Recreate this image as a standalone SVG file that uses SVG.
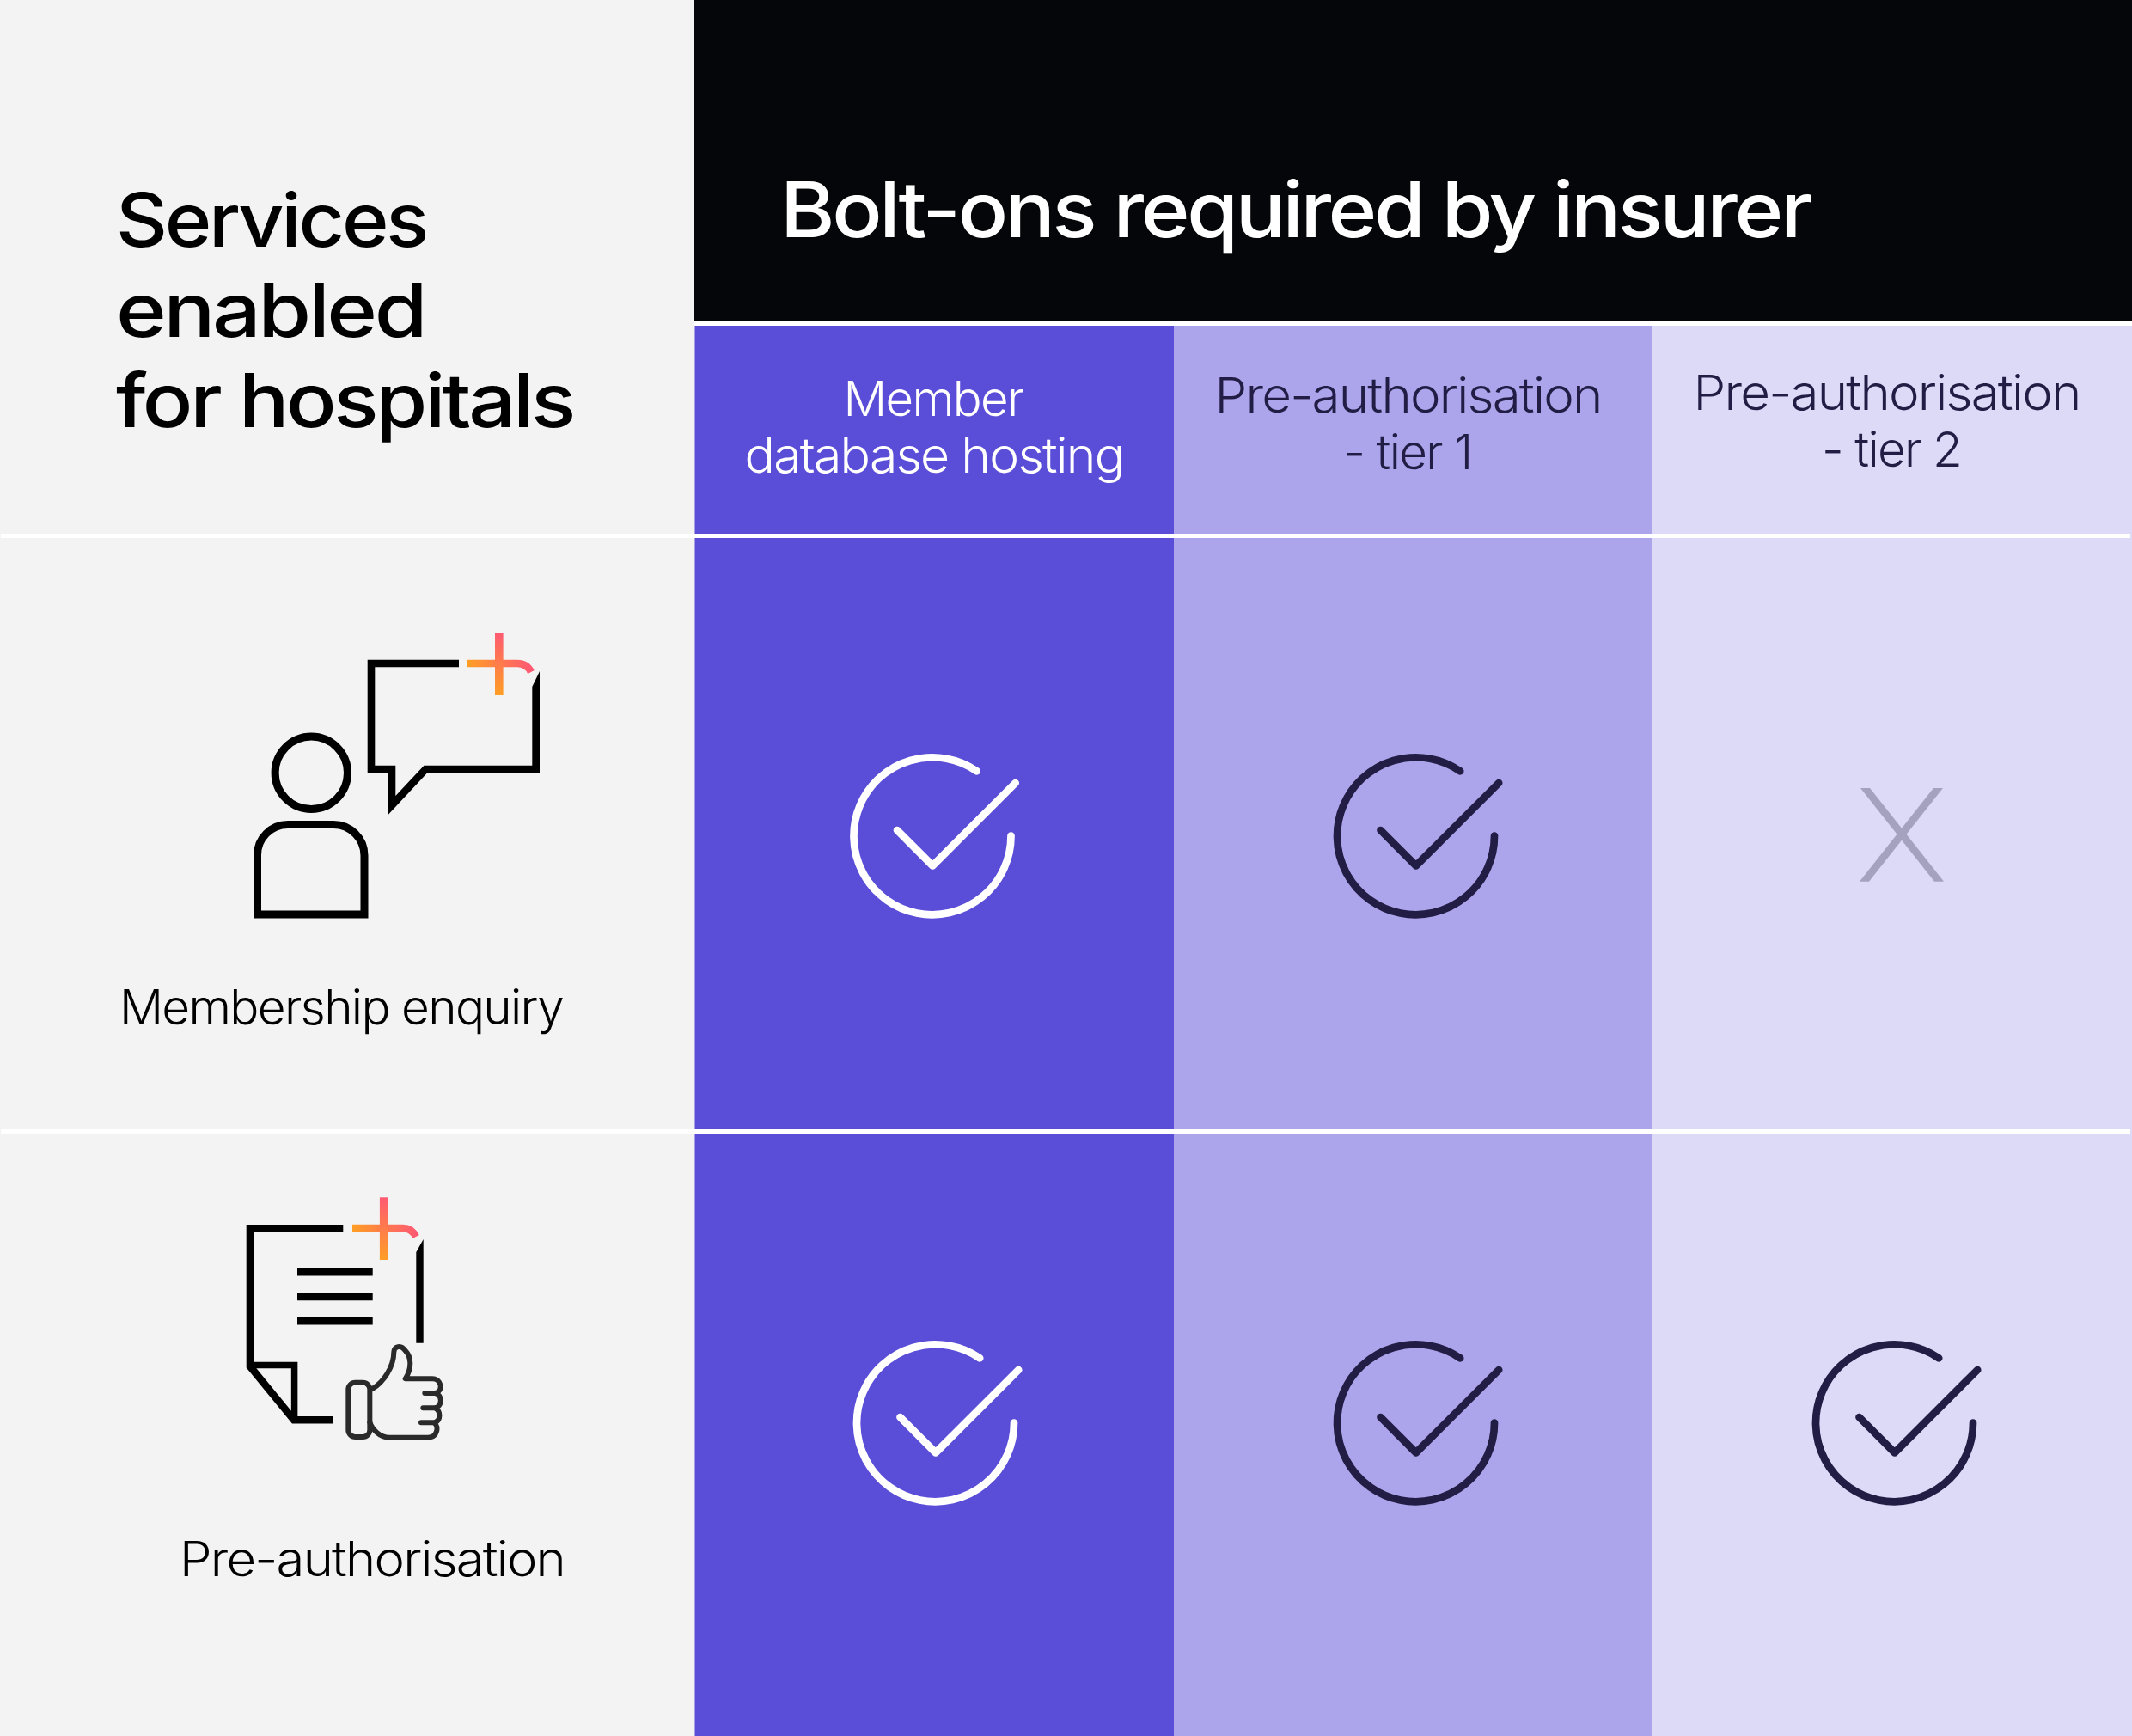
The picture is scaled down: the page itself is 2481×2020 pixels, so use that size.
<svg xmlns="http://www.w3.org/2000/svg" xmlns:xlink="http://www.w3.org/1999/xlink" width="2481" height="2020" viewBox="0 0 2481 2020">
<style>
text{font-family:"Inter","Liberation Sans",sans-serif}
.h{font-size:86px;font-weight:500;fill:#000;letter-spacing:-.035em}
.title{font-size:89px;font-weight:500;fill:#fff;letter-spacing:-.035em}
.l{font-size:56px;font-weight:300;letter-spacing:-.03em}
.w{fill:#fff}.d{fill:#221d45}.k{fill:#000}
.ic{fill:none;stroke:#000;stroke-width:8.6;stroke-miterlimit:12}
.chk{fill:none;stroke-width:8.7;stroke-linecap:round;stroke-linejoin:round}
</style>
<defs>
<linearGradient id="h1" gradientUnits="userSpaceOnUse" x1="544" y1="0" x2="618" y2="0"><stop offset="0" stop-color="#ff9e24"/><stop offset="1" stop-color="#ff5a72"/></linearGradient>
<linearGradient id="v1" gradientUnits="userSpaceOnUse" x1="0" y1="736" x2="0" y2="809"><stop offset="0" stop-color="#ff5a72"/><stop offset="1" stop-color="#ff9e24"/></linearGradient>
<linearGradient id="h2" gradientUnits="userSpaceOnUse" x1="410" y1="0" x2="484" y2="0"><stop offset="0" stop-color="#ff9e24"/><stop offset="1" stop-color="#ff5a72"/></linearGradient>
<linearGradient id="v2" gradientUnits="userSpaceOnUse" x1="0" y1="1393" x2="0" y2="1466"><stop offset="0" stop-color="#ff5a72"/><stop offset="1" stop-color="#ff9e24"/></linearGradient>
<g id="check" class="chk">
<path d="M91.5 0A91.5 91.5 0 1 1 51.7-75.2"/>
<path d="M-41-6.5L.3 34.8L96.7-61.5"/>
</g>
</defs>
<rect width="2481" height="2020" fill="#f3f3f3"/>
<g id="columns">
<rect x="808" y="0" width="1673" height="374" fill="#050609"/>
<rect x="808.5" y="379" width="557.5" height="1641" fill="#5a4dd8"/>
<rect x="1366" y="379" width="557" height="1641" fill="#aca5eb"/>
<rect x="1923" y="379" width="558" height="1641" fill="#dddaf7"/>
</g>
<g id="rules" fill="#fff">
<rect x="808" y="374" width="1673" height="5"/>
<rect x="1" y="621" width="2478" height="5"/>
<rect x="1" y="1314" width="2478" height="5"/>
</g>
<g id="services-heading" class="h">
<text x="135" y="287" textLength="361" lengthAdjust="spacingAndGlyphs">Services</text>
<text x="135" y="392" textLength="359" lengthAdjust="spacingAndGlyphs">enabled</text>
<text x="135" y="497" textLength="532" lengthAdjust="spacingAndGlyphs">for hospitals</text>
</g>
<g id="bolt-ons-heading"><text class="title" x="908" y="276" textLength="1198" lengthAdjust="spacingAndGlyphs">Bolt-ons required by insurer</text></g>
<g id="col-member" class="l w">
<text x="1086" y="484" text-anchor="middle" textLength="209" lengthAdjust="spacingAndGlyphs">Member</text>
<text x="1087" y="550" text-anchor="middle" textLength="441" lengthAdjust="spacingAndGlyphs">database hosting</text>
</g>
<g id="col-tier1" class="l d">
<text x="1638.500" y="480" text-anchor="middle" textLength="450" lengthAdjust="spacingAndGlyphs">Pre-authorisation</text>
<text x="1638" y="546" text-anchor="middle" textLength="149" lengthAdjust="spacingAndGlyphs">- tier 1</text>
</g>
<g id="col-tier2" class="l d">
<text x="2195.500" y="477" text-anchor="middle" textLength="450" lengthAdjust="spacingAndGlyphs">Pre-authorisation</text>
<text x="2201" y="543" text-anchor="middle" textLength="162" lengthAdjust="spacingAndGlyphs">- tier 2</text>
</g>
<g id="membership-enquiry">
<circle class="ic" cx="362.3" cy="899.3" r="42.2" style="stroke-width:9"/>
<path class="ic" d="M299.5 1064V995A35.5 35.5 0 0 1 335 959.5H388A36 36 0 0 1 424 995.5V1064Z" style="stroke-width:9"/>
<path class="ic" d="M534 772H432V895H456V937L495.3 895H624"/>
<polygon points="619.3,799 628,781 628,899 619.3,899" fill="#000"/>
<path fill="none" stroke="url(#h1)" stroke-width="8.6" d="M544 772H602Q613 772 618 782"/>
<rect x="576" y="736" width="9.6" height="73" fill="url(#v1)"/>
<text class="l k" x="139" y="1192" textLength="516" lengthAdjust="spacingAndGlyphs">Membership enquiry</text>
</g>
<g id="pre-authorisation">
<path class="ic" d="M399.3 1429.3H291V1590L342 1652.3H387.3"/>
<path class="ic" d="M291 1588.5H342.6V1652" style="stroke-width:7.5"/>
<path class="ic" d="M346 1480.3H433.7M346 1509H433.7M346 1537.3H433.7"/>
<polygon points="484.3,1457 492.7,1442 492.7,1562.7 484.3,1562.7" fill="#000"/>
<path fill="none" stroke="url(#h2)" stroke-width="8.6" d="M410 1429H469Q479 1429 484 1439"/>
<rect x="441.9" y="1393.3" width="9.6" height="72.7" fill="url(#v2)"/>
<g transform="translate(250 1370) scale(.33333)" fill="none" stroke="#2a2a2a" stroke-width="18" stroke-linecap="round" stroke-linejoin="round">
<rect x="466" y="716" width="75" height="190" rx="24"/>
<path d="M550 738C590 715 625 660 625 610C625 590 650 582 665 605C685 625 690 665 665 703H760C790 703 800 745 770 753H733H770C795 760 795 800 768 805H727H768C790 815 790 850 765 856H720H765C785 870 775 908 745 908H610C575 908 550 880 541 855"/>
</g>
<text class="l k" x="209" y="1834" textLength="448" lengthAdjust="spacingAndGlyphs">Pre-authorisation</text>
</g>
<g id="marks">
<use xlink:href="#check" href="#check" x="1085" y="972.5" stroke="#fff"/>
<use xlink:href="#check" href="#check" x="1647.5" y="972.5" stroke="#221d45"/>
<polygon points="2165,917 2176,917 2262,1025.7 2251,1025.7" fill="#a5a2c0"/>
<polygon points="2250,917 2261,917 2175,1025.7 2164,1025.7" fill="#a5a2c0"/>
<use xlink:href="#check" href="#check" x="1088.5" y="1655.5" stroke="#fff"/>
<use xlink:href="#check" href="#check" x="1647.5" y="1655.5" stroke="#221d45"/>
<use xlink:href="#check" href="#check" x="2204.5" y="1655.5" stroke="#221d45"/>
</g>
</svg>
